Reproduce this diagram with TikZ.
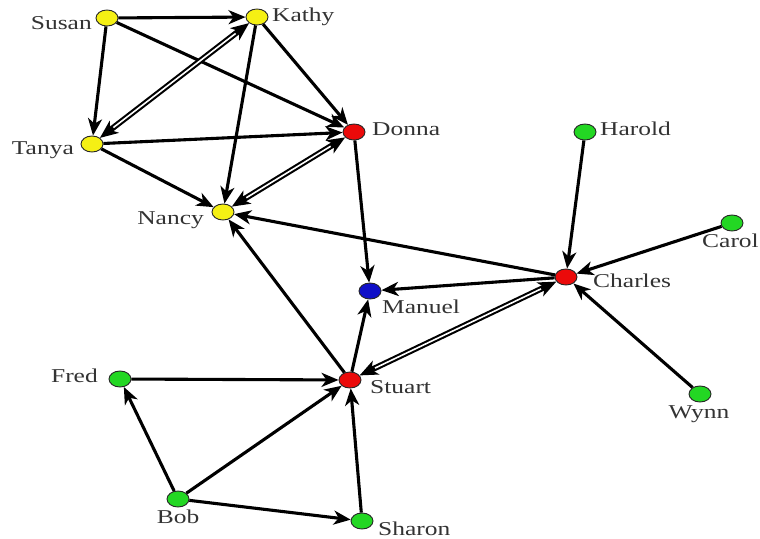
\documentclass[tikz,border=0pt]{standalone}
\usepackage{graphicx}
\usepackage{fontspec}
\setmainfont{Liberation Serif}
\usetikzlibrary{shapes.geometric,arrows.meta}
\definecolor{nyellow}{RGB}{245,240,20}
\definecolor{nred}{RGB}{235,10,10}
\definecolor{nblue}{RGB}{15,15,200}
\definecolor{ngreen}{RGB}{35,215,35}
\newcommand{\wtxt}[1]{\scalebox{1.3}[1]{#1}}
\begin{document}
\begin{tikzpicture}[x=1pt,y=-1pt,
  vtx/.style={ellipse,draw=black!85,line width=0.9pt,minimum width=22pt,minimum height=16pt,inner sep=0pt},
  lbl/.style={inner sep=0pt,font=\fontsize{19.6}{22}\selectfont,text=black!80},
  edge/.style={line width=3.1pt,draw=black,-{Stealth[length=17pt,width=14pt,inset=5pt]}},
  dedge/.style={line width=5.8pt,draw=black,
    {Stealth[length=18pt,width=15pt,inset=5pt]}-{Stealth[length=18pt,width=15pt,inset=5pt]}},
  dgap/.style={line width=1.6pt,draw=white,shorten >=17pt,shorten <=17pt}]
\fill[white] (0,0) rectangle (760,538);
\useasboundingbox (0,0) rectangle (760,538);
% vertices
\node[vtx,fill=nyellow] (susan) at (107,18) {};
\node[vtx,fill=nyellow] (kathy) at (257,17) {};
\node[vtx,fill=nyellow] (tanya) at (92,144) {};
\node[vtx,fill=nred] (donna) at (354,132) {};
\node[vtx,fill=nyellow] (nancy) at (223,212) {};
\node[vtx,fill=nblue] (manuel) at (370,291) {};
\node[vtx,fill=nred] (charles) at (566,277) {};
\node[vtx,fill=ngreen] (harold) at (585,132) {};
\node[vtx,fill=ngreen] (carol) at (732,223) {};
\node[vtx,fill=nred] (stuart) at (350,380) {};
\node[vtx,fill=ngreen] (fred) at (120,379) {};
\node[vtx,fill=ngreen] (bob) at (178,499) {};
\node[vtx,fill=ngreen] (sharon) at (362,521) {};
\node[vtx,fill=ngreen] (wynn) at (700,394) {};
% labels
\node[lbl,anchor=base east] (lsusan) at (92,29) {\wtxt{Susan}};
\node[lbl,anchor=base west] (lkathy) at (272,21) {\wtxt{Kathy}};
\node[lbl,anchor=base east] (ltanya) at (74,154) {\wtxt{Tanya}};
\node[lbl,anchor=base west] (ldonna) at (372,135) {\wtxt{Donna}};
\node[lbl,anchor=base east] (lnancy) at (204,224) {\wtxt{Nancy}};
\node[lbl,anchor=base west] (lmanuel) at (382,313) {\wtxt{Manuel}};
\node[lbl,anchor=base west] (lcharles) at (593,287) {\wtxt{Charles}};
\node[lbl,anchor=base west] (lharold) at (600,135) {\wtxt{Harold}};
\node[lbl,anchor=base east] (lcarol) at (759,247) {\wtxt{Carol}};
\node[lbl,anchor=base west] (lstuart) at (370,393) {\wtxt{Stuart}};
\node[lbl,anchor=base east] (lfred) at (98,382) {\wtxt{Fred}};
\node[lbl,anchor=base] (lbob) at (178,523) {\wtxt{Bob}};
\node[lbl,anchor=base west] (lsharon) at (378,535) {\wtxt{Sharon}};
\node[lbl,anchor=base] (lwynn) at (699,418) {\wtxt{Wynn}};
% single edges
\draw[edge] (susan) -- (kathy);
\draw[edge] (susan) -- (tanya);
\draw[edge] (susan) -- (donna);
\draw[edge] (kathy) -- (donna);
\draw[edge] (kathy) -- (nancy);
\draw[edge] (tanya) -- (donna);
\draw[edge] (tanya) -- (nancy);
\draw[edge] (donna) -- (manuel);
\draw[edge] (charles) -- (nancy);
\draw[edge] (stuart) -- (nancy);
\draw[edge] (charles) -- (manuel);
\draw[edge] (stuart) -- (manuel);
\draw[edge] (harold) -- (charles);
\draw[edge] (carol) -- (charles);
\draw[edge] (wynn) -- (charles);
\draw[edge] (fred) -- (stuart);
\draw[edge] (bob) -- (fred);
\draw[edge] (bob) -- (stuart);
\draw[edge] (bob) -- (sharon);
\draw[edge] (sharon) -- (stuart);
% double edges
\draw[dedge] (kathy) -- (tanya);
\draw[dgap] (kathy) -- (tanya);
\draw[dedge] (donna) -- (nancy);
\draw[dgap] (donna) -- (nancy);
\draw[dedge] (charles) -- (stuart);
\draw[dgap] (charles) -- (stuart);
\end{tikzpicture}
\end{document}
